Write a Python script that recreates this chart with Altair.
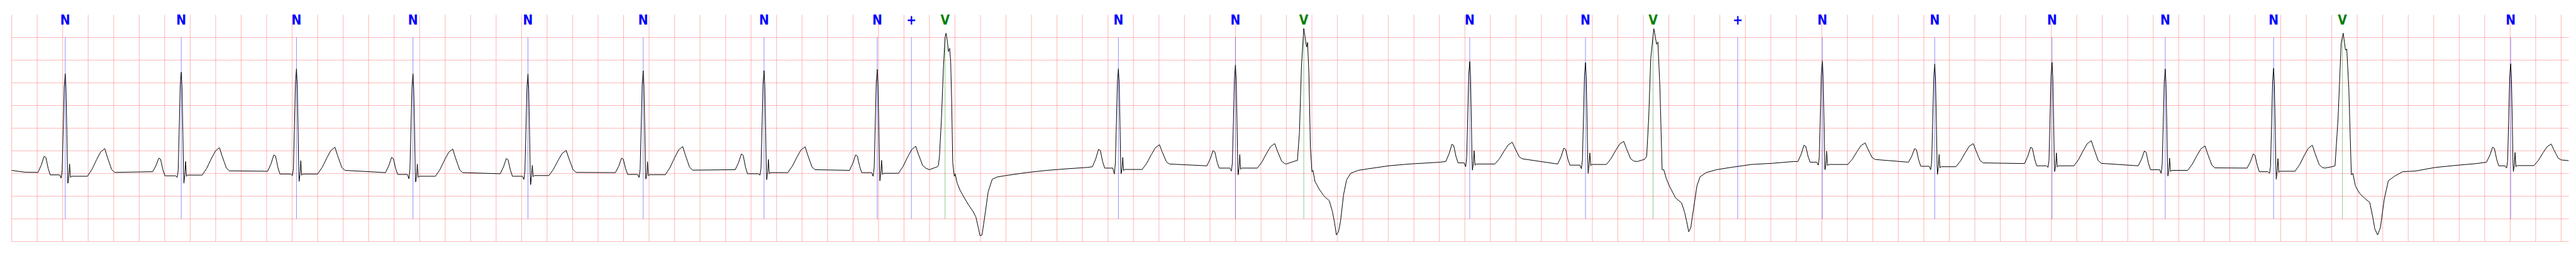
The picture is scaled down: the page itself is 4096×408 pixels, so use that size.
import altair as alt
import pandas as pd

# x in grid divisions (one division = 0.2 s), y in grid divisions (10 divisions tall)
X_MAX = 100.3
Y_MAX = 10.0
grid_x = list(range(0, 101))
grid_y = list(range(0, 10))

# ---- beat annotations ----
ann_x = [2.10, 6.65, 11.17, 15.74, 20.25, 24.77, 29.51, 33.95, 35.29, 36.61,
         43.41, 48.00, 50.68, 57.19, 61.73, 64.38, 67.70, 71.02, 75.43, 80.03,
         84.47, 88.72, 91.42, 98.02]
ann_sym = ["N", "N", "N", "N", "N", "N", "N", "N", "+", "V",
           "N", "N", "V", "N", "N", "V", "+", "N", "N", "N",
           "N", "N", "V", "N"]

# ---- normal beats, values read per beat ----
nb_r = [2.10, 6.65, 11.17, 15.74, 20.25, 24.77, 29.51, 33.95, 43.41, 48.00,
        57.19, 61.73, 71.02, 75.43, 80.03, 84.47, 88.72, 98.02]
nb_pre = [3.05, 3.08, 3.10, 3.04, 2.99, 3.04, 3.17, 3.14, 3.30, 3.34,
          3.53, 3.42, 3.53, 3.50, 3.44, 3.34, 3.24, 3.50]
nb_pdt = [-0.80, -0.85, -0.86, -0.81, -0.82, -0.82, -0.86, -0.82, -0.75, -0.85,
          -0.67, -0.82, -0.69, -0.76, -0.81, -0.79, -0.77, -0.68]
nb_p = [3.76, 3.68, 3.82, 3.71, 3.66, 3.68, 3.86, 3.82, 4.07, 4.01,
        4.29, 4.12, 4.25, 4.10, 4.16, 3.99, 3.86, 4.16]
nb_pr = [2.94, 2.90, 2.98, 2.96, 2.88, 2.96, 2.99, 3.04, 3.24, 3.24,
         3.47, 3.37, 3.50, 3.32, 3.34, 3.17, 3.08, 3.34]
nb_q = [2.80, 2.83, 2.91, 2.77, 2.74, 2.83, 2.93, 2.88, 2.98, 3.11,
        3.30, 3.21, 3.37, 3.17, 3.27, 3.01, 3.01, 3.24]
nb_rv = [7.40, 7.47, 7.62, 7.40, 7.40, 7.53, 7.54, 7.59, 7.62, 7.79,
         7.94, 7.89, 7.96, 7.83, 7.90, 7.61, 7.64, 7.84]
nb_s = [2.57, 2.57, 2.65, 2.63, 2.51, 2.76, 2.73, 2.68, 2.99, 2.94,
        3.15, 3.01, 3.17, 2.96, 3.09, 2.89, 2.75, 3.09]
nb_rp = [3.42, 3.53, 3.57, 3.42, 3.36, 3.52, 3.62, 3.58, 3.71, 3.84,
         4.01, 3.91, 3.99, 3.84, 3.91, 3.68, 3.66, 3.93]
nb_st = [2.88, 2.93, 2.98, 2.88, 2.91, 2.95, 3.04, 3.01, 3.18, 3.24,
         3.42, 3.40, 3.40, 3.30, 3.34, 3.14, 3.10, 3.35]
nb_tdt = [1.55, 1.50, 1.51, 1.56, 1.50, 1.55, 1.61, 1.51, 1.61, 1.54,
          1.67, 1.50, 1.68, 1.51, 1.54, 1.56, 1.52, 1.59]
nb_t = [4.10, 4.14, 4.16, 4.08, 4.02, 4.19, 4.18, 4.20, 4.27, 4.32,
        4.38, 4.42, 4.35, 4.32, 4.45, 4.22, 4.25, 4.30]
nb_tp = [3.05, 3.12, 3.14, 3.04, 3.05, 3.15, 3.17, 3.24, 3.42, 3.44,
         3.65, 3.55, 3.62, 3.47, 3.45, 3.25, 3.27, 3.60]

# ---- ventricular beats and recovery, traced point by point ----
v1_x = [35.99, 36.31, 36.35, 36.39, 36.47, 36.55, 36.61, 36.65, 36.71, 36.74, 36.79,
        36.83, 36.87, 36.91, 36.97, 37.01, 37.08, 37.20, 37.38, 37.54, 37.70,
        37.82, 37.90, 37.98, 38.06, 38.18, 38.30, 38.46, 38.66, 38.99, 39.79,
        40.60, 41.40, 42.20]
v1_y = [3.17, 3.30, 3.37, 3.76, 5.46, 7.76, 9.00, 9.19, 8.74, 8.38, 8.52,
        7.95, 6.12, 3.50, 2.88, 2.98, 2.59, 2.26, 1.90, 1.60, 1.34,
        1.08, 0.69, 0.26, 0.29, 1.21, 2.19, 2.75, 2.85, 2.91, 3.04,
        3.14, 3.21, 3.27]
v2_x = [49.99, 50.39, 50.43, 50.51, 50.59, 50.68, 50.79, 50.83, 50.88, 50.94,
        51.00, 51.04, 51.12, 51.28, 51.48, 51.68, 51.80, 51.88, 51.96, 52.04,
        52.12, 52.24, 52.36, 52.52, 52.81, 53.21, 54.01, 54.82, 56.02]
v2_y = [3.42, 3.57, 3.57, 4.81, 7.76, 9.40, 8.57, 8.78, 7.43, 4.16,
        3.08, 3.14, 2.65, 2.32, 2.00, 1.80, 1.34, 0.88, 0.29, 0.43,
        0.88, 2.06, 2.72, 3.01, 3.14, 3.21, 3.34, 3.42, 3.50]
v3_x = [63.77, 64.05, 64.13, 64.21, 64.29, 64.41, 64.52, 64.57, 64.65, 64.735,
        64.80, 64.90, 65.02, 65.26, 65.50, 65.62, 65.70, 65.78, 65.86, 65.98,
        66.10, 66.22, 66.46, 66.87, 67.43, 68.24, 69.04, 69.90]
v3_y = [3.53, 3.63, 3.76, 5.46, 8.08, 9.39, 8.70, 8.80, 6.77, 3.17,
        3.17, 2.78, 2.45, 1.93, 1.70, 1.28, 0.88, 0.43, 0.62, 1.54,
        2.45, 2.85, 3.04, 3.17, 3.27, 3.40, 3.45, 3.53]
v4_x = [90.72, 91.01, 91.13, 91.25, 91.37, 91.45, 91.54, 91.59, 91.67, 91.77,
        91.83, 91.93, 92.09, 92.33, 92.49, 92.61, 92.69, 92.80, 92.91, 93.06,
        93.22, 93.46, 93.78, 94.27, 95.07, 95.87, 96.68]
v4_y = [3.24, 3.30, 3.34, 5.46, 8.74, 9.19, 8.44, 8.49, 6.77, 2.94,
        3.01, 2.45, 2.13, 1.87, 1.73, 1.08, 0.56, 0.29, 0.62, 1.87,
        2.68, 2.88, 3.08, 3.11, 3.27, 3.36, 3.44]

lead_x = [0.0, 0.5]
lead_y = [3.14, 3.06]
tail_x = [100.29]
tail_y = [3.57]

# ---- assemble the trace ----
pts = list(zip(lead_x, lead_y)) + list(zip(tail_x, tail_y))
for vx, vy in [(v1_x, v1_y), (v2_x, v2_y), (v3_x, v3_y), (v4_x, v4_y)]:
    pts += list(zip(vx, vy))

for i, r in enumerate(nb_r):
    pre, pdt, p, pr = nb_pre[i], nb_pdt[i], nb_p[i], nb_pr[i]
    q, rv, s, rp, st = nb_q[i], nb_rv[i], nb_s[i], nb_rp[i], nb_st[i]
    tdt, t, tp = nb_tdt[i], nb_t[i], nb_tp[i]
    ta = t - st
    h = rv - pr
    beat = [
        (pdt - 0.27, pre), (pdt - 0.14, pre + 0.45 * (p - pre)), (pdt - 0.03, p),
        (pdt + 0.04, p - 0.05), (pdt + 0.13, pr + 0.35 * (p - pr)), (pdt + 0.21, pr),
        (-0.22, pr), (-0.16, q), (-0.12, pr + 0.05 * h), (-0.08, pr + 0.45 * h),
        (-0.04, pr + 0.87 * h), (0.0, rv), (0.03, pr + 0.85 * h), (0.065, pr + 0.4 * h),
        (0.09, pr + 0.02 * h), (0.105, s), (0.14, st), (0.17, rp), (0.205, st - 0.05),
        (0.25, st),
        (tdt - 0.68, st), (tdt - 0.50, st + 0.25 * ta), (tdt - 0.32, st + 0.6 * ta),
        (tdt - 0.16, st + 0.88 * ta), (tdt, t), (tdt + 0.10, tp + 0.65 * (t - tp)),
        (tdt + 0.19, tp + 0.37 * (t - tp)), (tdt + 0.27, tp + 0.12 * (t - tp)),
        (tdt + 0.39, tp),
    ]
    pts += [(r + dx, v) for dx, v in beat]

pts.sort(key=lambda a: a[0])
sig = pd.DataFrame(pts, columns=["x", "v"])

ann = pd.DataFrame({
    "x": ann_x,
    "sym": ann_sym,
    "color": ["#008000" if s == "V" else "#0000ff" for s in ann_sym],
    "y0": 1.0,
    "y1": 9.0,
    "ty": 9.565,
})

gx = pd.DataFrame({"x": grid_x, "y0": 0.0, "y1": Y_MAX})
gy = pd.DataFrame({"y": grid_y, "x0": 0.0, "x1": X_MAX})

xs = alt.Scale(domain=[0, X_MAX], nice=False, zero=False)
ys = alt.Scale(domain=[0, Y_MAX], nice=False, zero=False)

grid_style = dict(color="#ff0000", opacity=0.27, strokeWidth=1.1)

vgrid = alt.Chart(gx).mark_rule(**grid_style).encode(
    x=alt.X("x:Q", scale=xs, axis=None),
    y=alt.Y("y0:Q", scale=ys, axis=None),
    y2="y1:Q",
)
hgrid = alt.Chart(gy).mark_rule(**grid_style).encode(
    y=alt.Y("y:Q", scale=ys, axis=None),
    x=alt.X("x0:Q", scale=xs, axis=None),
    x2="x1:Q",
)

line = alt.Chart(sig).mark_line(color="black", strokeWidth=1.0).encode(
    x=alt.X("x:Q", scale=xs, axis=None),
    y=alt.Y("v:Q", scale=ys, axis=None),
    order="x:Q",
)

rules = alt.Chart(ann).mark_rule(strokeWidth=0.8, opacity=0.55).encode(
    x=alt.X("x:Q", scale=xs, axis=None),
    y=alt.Y("y0:Q", scale=ys, axis=None),
    y2="y1:Q",
    color=alt.Color("color:N", scale=None),
)

labels = alt.Chart(ann).mark_text(
    font="DejaVu Sans Condensed, DejaVu Sans", fontSize=21, fontWeight="bold",
    align="center", baseline="alphabetic",
).encode(
    x=alt.X("x:Q", scale=xs, axis=None),
    y=alt.Y("ty:Q", scale=ys, axis=None),
    text="sym:N",
    color=alt.Color("color:N", scale=None),
)

chart = alt.layer(vgrid, hgrid, rules, line, labels).properties(
    width=4066, height=360,
    padding={"left": 10.6, "top": 15.5, "right": 2, "bottom": 2},
    autosize=alt.AutoSizeParams(type="none"),
    background="white",
).configure_view(stroke=None)

chart.save("out.html", embed_options={"renderer": "svg", "actions": False})
